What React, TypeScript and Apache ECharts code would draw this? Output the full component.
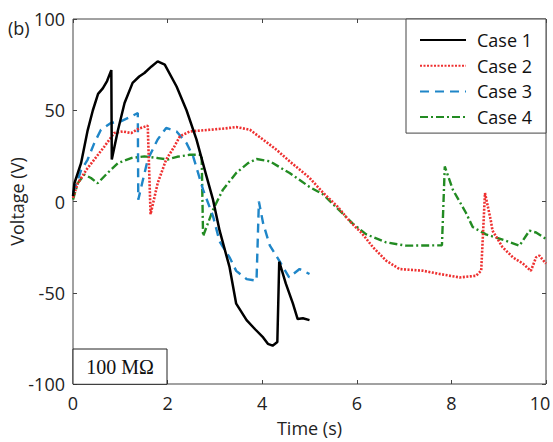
import React, { useEffect, useRef } from "react";
import * as echarts from "echarts";

const seriesNames = ["Case 1", "Case 2", "Case 3", "Case 4"];
const xTicks = [0, 2, 4, 6, 8, 10];
const yTicks = [-100, -50, 0, 50, 100];

const case1: number[][] = [
  [0, 3], [0.03, 10], [0.17, 21], [0.31, 39], [0.42, 50], [0.53, 59], [0.63, 62], [0.72, 66],
  [0.81, 72], [0.82, 23], [0.95, 39], [1.09, 54], [1.26, 65], [1.4, 68.5], [1.51, 70.4],
  [1.66, 74], [1.79, 76.8], [1.94, 75], [2.19, 63], [2.4, 50], [2.61, 34], [2.82, 14],
  [2.96, 1], [3.1, -16], [3.31, -36], [3.45, -56], [3.67, -65], [3.85, -70], [4.02, -74.5],
  [4.12, -78], [4.22, -79], [4.32, -77], [4.36, -33], [4.5, -45], [4.65, -56], [4.75, -64.4],
  [4.86, -64], [5.0, -65],
];

const case2: number[][] = [
  [0, 2], [0.1, 10], [0.3, 18], [0.45, 23], [0.66, 30], [0.87, 37.5], [1.05, 38.4], [1.23, 37.5],
  [1.4, 40], [1.58, 41.5], [1.64, -7], [1.79, 10], [1.97, 23], [2.14, 30], [2.26, 35.7],
  [2.47, 38.4], [2.89, 39.3], [3.2, 40], [3.45, 40.8], [3.74, 39.3], [4.02, 33.9], [4.3, 28.4],
  [4.58, 22], [5.0, 13], [5.28, 5], [5.6, -3], [5.84, -10.5], [6.12, -17.8], [6.34, -25],
  [6.62, -32.4], [6.9, -37], [7.39, -37.9], [7.75, -39.7], [8.17, -41.6], [8.52, -40.7],
  [8.63, -37.9], [8.71, 4.6], [8.83, -10], [8.87, -16], [9.08, -25], [9.3, -30.6], [9.51, -34],
  [9.68, -38], [9.79, -30.6], [9.86, -29.7], [10, -34],
];

const case3: number[][] = [
  [0, 5], [0.03, 6.5], [0.17, 17], [0.31, 23], [0.45, 32], [0.59, 39.3], [0.8, 43], [1.01, 43.9],
  [1.23, 46.6], [1.37, 48.5], [1.38, 1], [1.58, 23], [1.79, 34], [1.97, 40.3], [2.19, 38.4],
  [2.4, 32], [2.54, 24.7], [2.75, 6.5], [2.96, -8], [3.1, -22], [3.31, -30.6], [3.45, -38],
  [3.67, -42.5], [3.88, -43.4], [3.93, 0], [4.02, -12], [4.16, -24], [4.36, -32.4],
  [4.57, -41.6], [4.79, -37], [5.0, -39.7],
];

const case4: number[][] = [
  [0, 1], [0.1, 10], [0.24, 14.7], [0.38, 12.9], [0.52, 10], [0.73, 15.6], [0.95, 21],
  [1.23, 23.8], [1.51, 24.7], [1.79, 23.8], [2.0, 23], [2.2, 24.5], [2.47, 25.6], [2.72, 25.6],
  [2.75, -19], [2.96, -4.5], [3.17, 6.5], [3.45, 15.6], [3.7, 21], [3.88, 23.3], [4.16, 22],
  [4.58, 15.6], [5.0, 8], [5.28, 4], [5.6, -4], [5.91, -12], [6.2, -18], [6.62, -22.4],
  [7.04, -24.2], [7.8, -24], [7.86, 19.2], [8.03, 6.5], [8.31, -6.3], [8.45, -14], [8.73, -18],
  [9.15, -21.5], [9.44, -24.2], [9.65, -16], [9.79, -17], [10, -20.5],
];

const seriesData = [case1, case2, case3, case4];
const seriesColors = ["#000000", "#ee3030", "#1f86c8", "#228b22"];
const seriesDash: any[] = ["solid", [2, 1.5], [9, 6], [8, 3, 2, 3]];
const seriesWidths = [2.5, 2.6, 2.4, 2.4];

const FONT = "'Open Sans', 'Noto Sans', sans-serif";

export default function App() {
  const ref = useRef<HTMLDivElement>(null);
  useEffect(() => {
    document.body.style.margin = "0";
    if (!ref.current) return;
    const chart = echarts.init(ref.current, undefined, { renderer: "svg" });
    const frame = "#444";
    const tickLabel = { fontSize: 18, fontFamily: FONT, color: "#222" };
    const tick = { show: true, inside: true, length: 4, lineStyle: { color: frame } };
    const hiddenLine = { show: false, onZero: false };
    const xMax = xTicks[xTicks.length - 1];
    chart.setOption({
      animation: false,
      backgroundColor: "#fff",
      grid: {
        left: 73, right: 7, top: 19, bottom: 58,
        containLabel: false, outerBoundsMode: "none",
        show: true, borderColor: frame, borderWidth: 1, backgroundColor: "transparent",
      },
      legend: {
        right: 7, top: 19, orient: "vertical",
        padding: [12, 14, 7, 13],
        itemWidth: 46, itemHeight: 14, itemGap: 7.7,
        itemStyle: { opacity: 0 },
        borderColor: frame, borderWidth: 1, backgroundColor: "#fff",
        textStyle: { fontSize: 18, fontFamily: FONT, color: "#111", padding: [0, 0, 0, 6] },
        data: seriesNames,
      },
      xAxis: [
        {
          type: "value", min: xTicks[0], max: xMax, interval: 2,
          position: "bottom",
          name: "Time (s)", nameLocation: "middle", nameGap: 35, nameMoveOverlap: false,
          nameTextStyle: { fontSize: 18, fontFamily: FONT, color: "#222" },
          axisLine: hiddenLine,
          axisTick: tick,
          axisLabel: {
            ...tickLabel, margin: 10,
            formatter: (v: number) => (v === xMax ? `{r|${v}}` : `${v}`),
            rich: { r: { ...tickLabel, padding: [0, 12, 0, 0] } },
          },
          splitLine: { show: false },
        },
        {
          type: "value", min: xTicks[0], max: xMax, interval: 2,
          position: "top",
          axisLine: hiddenLine,
          axisTick: tick,
          axisLabel: { show: false },
          splitLine: { show: false },
        },
      ],
      yAxis: [
        {
          type: "value", min: yTicks[0], max: yTicks[yTicks.length - 1], interval: 50,
          position: "left",
          name: "Voltage (V)", nameLocation: "middle", nameGap: 47, nameMoveOverlap: false,
          nameTextStyle: { fontSize: 18, fontFamily: FONT, color: "#222" },
          axisLine: hiddenLine,
          axisTick: tick,
          axisLabel: { ...tickLabel, margin: 8 },
          splitLine: { show: false },
        },
        {
          type: "value", min: yTicks[0], max: yTicks[yTicks.length - 1], interval: 50,
          position: "right",
          axisLine: hiddenLine,
          axisTick: tick,
          axisLabel: { show: false },
          splitLine: { show: false },
        },
      ],
      series: seriesNames.map((name, i) => ({
        name,
        type: "line",
        data: seriesData[i],
        showSymbol: false,
        symbol: "none",
        color: seriesColors[i],
        lineStyle: { color: seriesColors[i], width: seriesWidths[i], type: seriesDash[i] },
        z: 10 - i,
      })),
      graphic: [
        {
          type: "text", left: 8, top: 19,
          style: { text: "(b)", fontSize: 18, fontFamily: FONT, fill: "#222" },
        },
        {
          type: "rect", z: 100,
          shape: { x: 73, y: 349, width: 94, height: 35.3 },
          style: { fill: "#fff", stroke: "#222", lineWidth: 1 },
        },
        {
          type: "text", z: 101, x: 120, y: 367,
          style: {
            text: "100 MΩ", fontSize: 20, fontFamily: "'Liberation Serif', 'DejaVu Serif', serif",
            fill: "#111", align: "center", verticalAlign: "middle",
          },
        },
      ],
    });
    return () => chart.dispose();
  }, []);
  return <div ref={ref} style={{ width: 553, height: 442 }} />;
}
